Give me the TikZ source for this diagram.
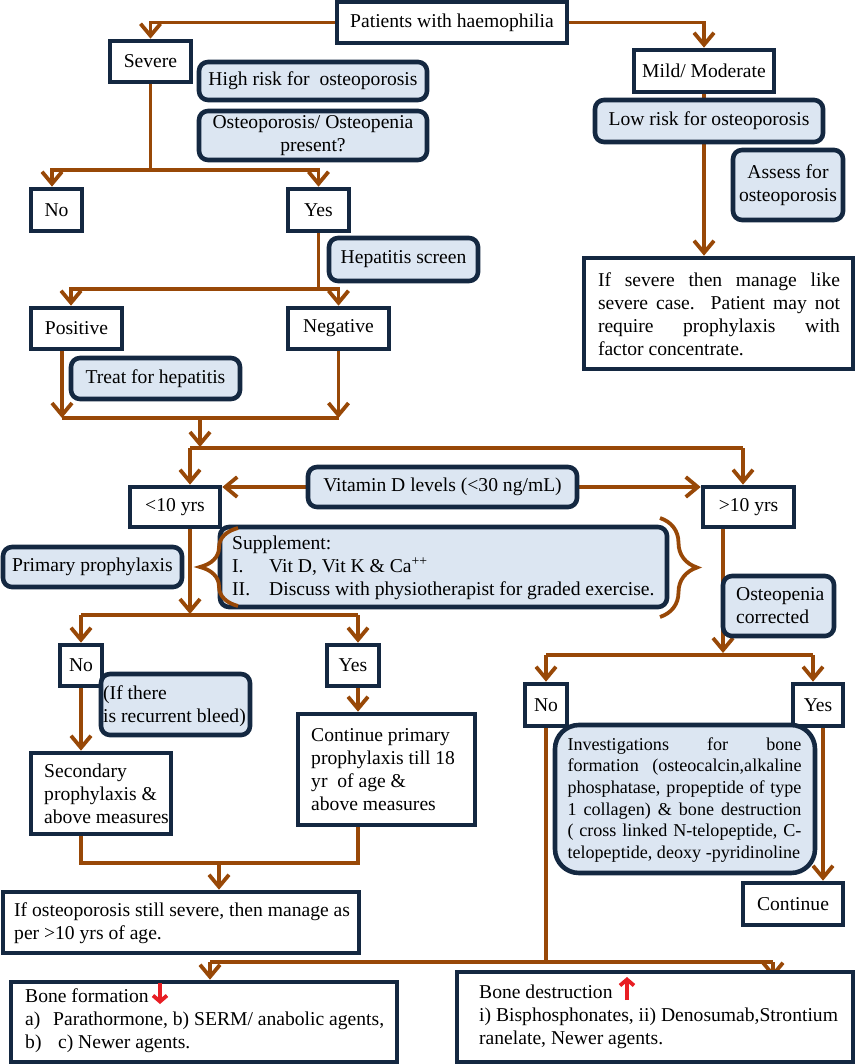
\documentclass[tikz,border=0pt]{standalone}
\usepackage{fontspec}
\setmainfont{Liberation Serif}
\usetikzlibrary{arrows.meta,backgrounds,calc,decorations.pathreplacing}
\definecolor{brn}{RGB}{152,72,7}
\definecolor{nvy}{RGB}{20,40,65}
\definecolor{lbl}{RGB}{220,230,242}
\definecolor{rd}{RGB}{232,30,36}
\newcommand{\fsmain}{\fontsize{19.6}{23}\selectfont}
\newcommand{\fsinv}{\fontsize{18.1}{21.7}\selectfont}
\newcommand{\bx}[7]{\node[#1, minimum width={#5-#3}, minimum height={#6-#4}] (#2) at ({(#3+#5)/2},{(#4+#6)/2}) {#7};}
\tikzset{
 plain/.style={draw=nvy, line width=4.6pt, fill=white, inner sep=0pt, font=\fsmain},
 soft/.style={plain, fill=lbl, rounded corners=9pt},
 ln/.style={draw=brn, line width=3.8pt},
 arr/.style={ln, -{Straight Barb[length=12pt,width=20pt]}},
 redarr/.style={draw=rd, line width=3.8pt, -{Straight Barb[length=6pt,width=14pt]}},
 txt/.style={inner sep=0pt, font=\fsmain},
}
\begin{document}
\begin{tikzpicture}[x=1pt,y=-1pt]
\useasboundingbox (0,0) rectangle (855,1064);
% ---------- boxes ----------
\bx{plain}{top}{337}{2}{567}{43}{Patients with haemophilia}
\bx{plain}{severe}{110}{41}{191}{82}{Severe}
\bx{soft}{highrisk}{199}{62}{427}{100}{High risk for\ \ osteoporosis}
\bx{soft,align=center}{osteo}{199}{111}{427}{160}{Osteoporosis/ Osteopenia\\present?}
\bx{plain}{no1}{31}{189}{82}{231}{No}
\bx{plain}{yes1}{288}{189}{349}{231}{Yes}
\bx{soft}{hep}{329}{238}{478}{281}{Hepatitis screen}
\bx{plain}{pos}{31}{308}{122}{349}{Positive}
\bx{plain}{neg}{288}{308}{389}{349}{Negative}
\bx{soft}{treat}{71}{358}{240}{399}{Treat for hepatitis}
\bx{plain}{lt10}{130}{487}{220}{527}{<10 yrs}
\bx{soft}{vitd}{308}{467}{577}{507}{Vitamin D levels (<30 ng/mL)}
\bx{plain}{gt10}{703}{487}{794}{527}{>10 yrs}
\bx{soft}{supp}{220}{527}{667}{607}{}
\node[txt,anchor=west,align=left] (suppT) at (232,568) {Supplement:\\\makebox[37pt][l]{I.}Vit D, Vit K \& Ca\textsuperscript{++}\\\makebox[37pt][l]{II.}Discuss with physiotherapist for graded exercise.};
\bx{soft}{primary}{3}{547}{182}{587}{Primary prophylaxis}
\bx{soft}{osteoc}{723}{576}{834}{636}{}
\node[txt,anchor=west,align=left] (osteocT) at (736,606) {Osteopenia\\corrected};
\bx{plain}{no2}{60}{645}{102}{686}{No}
\bx{plain}{yes2}{327}{645}{379}{686}{Yes}
\bx{soft}{recur}{101}{674}{250}{735}{}
\node[txt,anchor=west,align=left] (recurT) at (103,706) {(If there\\is recurrent bleed)};
\bx{plain}{secondary}{31}{753}{171}{834}{}
\node[txt,anchor=west,align=left] (secondaryT) at (44,794) {Secondary\\prophylaxis \&\\above measures};
\bx{plain}{contprim}{298}{714}{475}{825}{}
\node[txt,anchor=west,align=left] (contprimT) at (311,770) {Continue primary\\prophylaxis till 18\\yr\ \ of age \&\\above measures};
\bx{plain}{ifosteo}{3}{892}{359}{953}{}
\node[txt,anchor=west,align=left] (ifosteoT) at (14,923) {If osteoporosis still severe, then manage as\\per >10 yrs of age.};
\bx{plain}{boneform}{11}{982}{397}{1062}{}
\node[txt,anchor=west,align=left] (boneformT) at (25,1021) {Bone formation\\\makebox[28pt][l]{a)}Parathormone, b) SERM/ anabolic agents,\\\makebox[28pt][l]{b)}\ c) Newer agents.};
\bx{plain}{bonedes}{457}{972}{853}{1062}{}
\node[txt,anchor=west,align=left] (bonedesT) at (479,1017) {Bone destruction\\i) Bisphosphonates, ii) Denosumab,Strontium\\ranelate, Newer agents.};
\bx{plain}{mild}{634}{50}{774}{92}{Mild/ Moderate}
\bx{soft}{lowrisk}{595}{100}{823}{142}{Low risk for osteoporosis}
\bx{soft,align=center}{assess}{733}{150}{843}{220}{Assess for\\osteoporosis}
\bx{plain}{ifsevere}{584}{258}{853}{369}{}
\node[txt,text width=242pt,align=justify] (ifsevereT) at (719,314) {If severe then manage like\linebreak severe case. Patient may not\linebreak require prophylaxis with\linebreak factor concentrate.};
\bx{plain}{no3}{525}{684}{567}{726}{No}
\bx{plain}{yes3}{793}{684}{843}{726}{Yes}
\bx{soft,rounded corners=24pt}{invest}{555}{725}{815}{873}{}
\node[txt,font=\fsinv,text width=234pt,align=justify] (investT) at (684.5,800) {\parfillskip=0pt Investigations for bone\linebreak formation (osteocalcin,alkaline\linebreak phosphatase, propeptide of type\linebreak 1 collagen) \& bone destruction\linebreak ( cross linked N-telopeptide, C-\linebreak telopeptide, deoxy -pyridinoline};
\bx{plain}{cont}{743}{883}{843}{925}{Continue}
% ---------- braces and red arrows ----------
\draw[ln, decorate, decoration={brace, amplitude=38pt}] (238,606) -- (238,528);
\draw[ln, decorate, decoration={brace, amplitude=37pt}] (660,518) -- (660,617);
\draw[redarr] (160,983) -- (160,1004);
\draw[redarr] (627,1000) -- (627,977);
% ---------- connectors ----------
\begin{pgfonlayer}{background}
\draw[arr] (top.west) -| (severe.north);
\draw[arr] (top.east) -| (mild.north);
\draw[arr] (mild.south) -- (mild.south |- ifsevere.north);
\coordinate (s1) at (150.5,170);
\draw[ln] (severe.south) -- (s1);
\draw[arr] (s1) -| ([xshift=-4.5pt]no1.north);
\draw[arr] (s1) -| (yes1.north);
\coordinate (y1) at (318.5,289);
\draw[ln] (yes1.south) -- (y1);
\draw[arr] (y1) -| ([xshift=-5.5pt]pos.north);
\draw[arr] (y1) -| (neg.north);
\coordinate (m1) at (62,418);
\coordinate (m2) at (338.5,418);
\draw[arr] ([xshift=-14.5pt]pos.south) -- (m1);
\draw[arr] (neg.south) -- (m2);
\draw[ln] (m1) -- (m2);
\coordinate (m3) at (200,418);
\coordinate (m4) at (200,447);
\draw[arr] (m3) -- (m4);
\coordinate (h1) at (190,448);
\coordinate (h2) at (743,448);
\draw[ln] (h1) -- (h2);
\draw[arr] (h1) -- (h1 |- lt10.north);
\draw[arr] (h2) -- (h2 |- gt10.north);
\draw[arr] (vitd.west) -- (vitd.west -| lt10.east);
\draw[arr] (vitd.east) -- (vitd.east -| gt10.west);
\coordinate (l2) at (190,614);
\draw[arr] ([xshift=15pt]lt10.south) -- (l2);
\coordinate (l3) at (81,615);
\coordinate (l4) at (358,615);
\draw[ln] (l3) -- (l4);
\draw[arr] (l3) -- (no2.north);
\draw[arr] (l4) -- (l4 |- yes2.north);
\draw[arr] (no2.south) -- (no2.south |- secondary.north);
\draw[arr] (l4 |- yes2.south) -- (l4 |- contprim.north);
\coordinate (c1) at (81,863);
\coordinate (c2) at (358,863);
\coordinate (c3) at (219,863);
\draw[ln] (c1 |- secondary.south) -- (c1) -- (c2) -- (c2 |- contprim.south);
\draw[arr] (c3) -- (c3 |- ifosteo.north);
\coordinate (g1) at (723,653);
\draw[arr] (g1 |- gt10.south) -- (g1);
\coordinate (g2) at (546,655);
\coordinate (g3) at (813,655);
\draw[ln] (g2) -- (g3);
\draw[arr] (g2) -- (no3.north);
\draw[arr] (g3) -- (g3 |- yes3.north);
\coordinate (n1) at (546,962);
\draw[ln] (no3.south) -- (n1);
\coordinate (b1) at (210,962);
\coordinate (b2) at (773,962);
\draw[ln] (b1) -- (b2);
\draw[arr] (b1) -- (b1 |- boneform.north);
\draw[arr] (b2) -- ($(b2 |- bonedes.north)+(0,8)$);
\coordinate (k1) at (823,726);
\draw[arr] (k1) -- (k1 |- cont.north);
\end{pgfonlayer}
\end{tikzpicture}
\end{document}
